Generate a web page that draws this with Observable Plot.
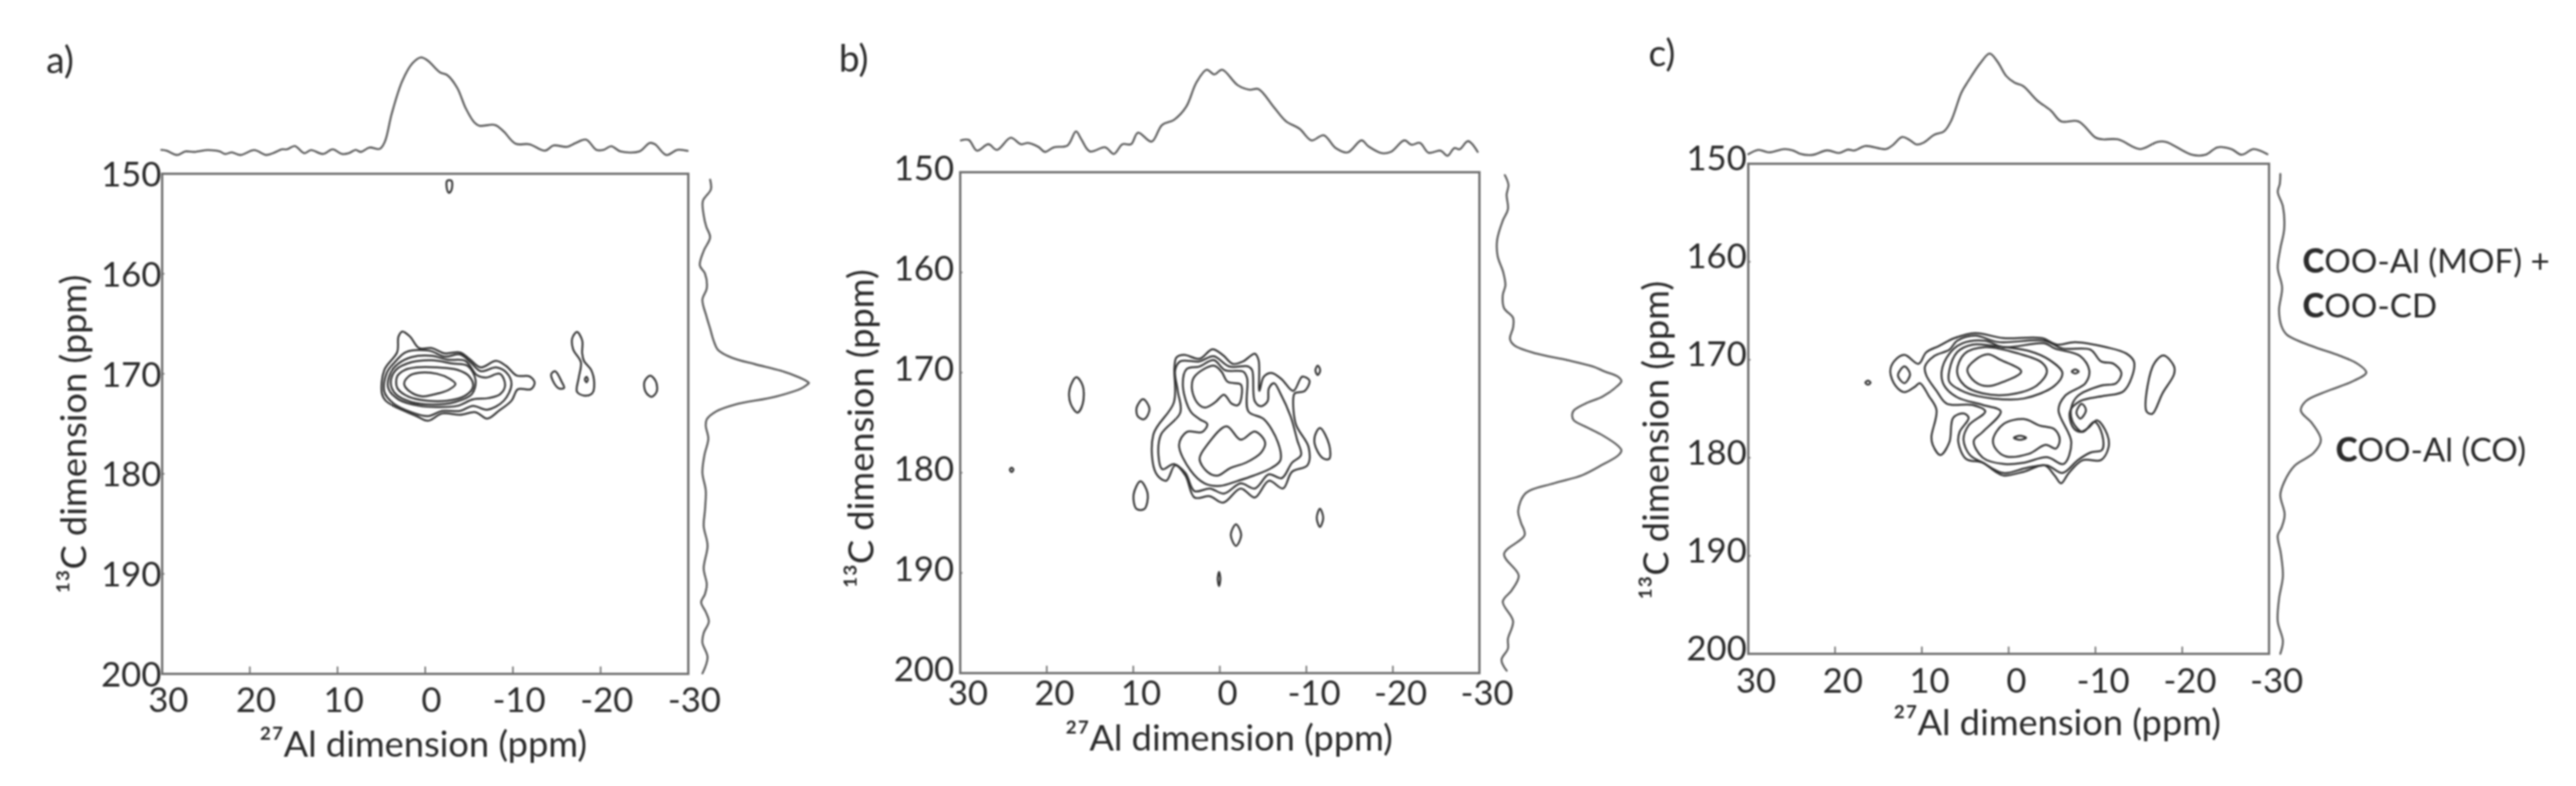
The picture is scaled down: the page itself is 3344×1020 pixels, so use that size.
<!DOCTYPE html>
<html>
<head>
<meta charset="utf-8">
<script src="https://cdn.jsdelivr.net/npm/d3@7"></script>
<script src="https://cdn.jsdelivr.net/npm/@observablehq/plot@0.6"></script>
<style>
html,body{margin:0;padding:0;background:#fff;}
#page{position:relative;width:3344px;height:1020px;overflow:hidden;background:#fff;filter:blur(0.9px);font-family:Lato,sans-serif;color:#2b2b2b;}
.note{position:absolute;white-space:nowrap;font-size:43px;line-height:1;transform:translateY(-50%);}
.note.big{font-size:48px;}
.note b{font-weight:900;}
</style>
</head>
<body>
<div id="page"></div>
<script>
const xTicks = [30,20,10,0,-10,-20,-30];
const yTicks = [150,160,170,180,190,200];
const xLabel = "²⁷Al dimension (ppm)";
const yLabel = "¹³C dimension (ppm)";

// panel a: contours [27Al ppm, 13C ppm]
const contoursA = [
 [[2.61,165.77],[1.73,166.28],[0.7,167.43],[-0.76,167.43],[-2.22,167.95],[-3.98,167.87],[-5.15,168.59],[-6.32,169.36],[-8.08,168.71],[-9.25,169.23],[-10.43,170.18],[-11.89,170.25],[-12.48,170.89],[-12.04,171.54],[-10.57,171.54],[-9.84,172.69],[-8.38,173.71],[-7.06,174.48],[-5.74,173.84],[-3.98,174.1],[-1.93,173.97],[-0.32,174.69],[1.0,174.23],[3.05,173.46],[4.51,172.69],[4.95,171.92],[4.66,169.61],[3.19,167.82],[3.05,166.28]],
 [[2.17,167.82],[-0.47,167.69],[-2.22,168.28],[-3.98,168.07],[-5.15,168.84],[-6.32,169.74],[-8.08,169.36],[-9.25,169.87],[-9.84,171.02],[-8.96,172.69],[-7.06,173.59],[-5.45,173.2],[-3.98,173.71],[-1.93,173.71],[-0.32,174.23],[1.58,173.84],[3.63,172.95],[4.66,171.79],[4.37,169.87],[3.34,168.71]],
 [[1.58,168.33],[-0.76,168.2],[-2.52,168.59],[-4.57,168.71],[-5.89,170.13],[-6.91,170.38],[-8.52,170.0],[-9.11,171.15],[-8.52,172.05],[-7.2,172.43],[-5.45,172.56],[-3.69,173.2],[-1.35,173.33],[0.7,173.2],[3.05,172.56],[4.22,171.41],[3.93,169.87],[3.05,168.97]],
 [[1.58,168.84],[-0.76,168.64],[-3.1,168.97],[-4.86,169.23],[-5.74,170.64],[-5.3,172.05],[-3.4,172.82],[-0.76,173.07],[1.58,172.82],[3.34,172.05],[3.93,170.89],[3.34,169.61]],
 [[1,169.36],[-1.35,169.36],[-3.69,169.61],[-5.01,170.25],[-5.45,171.28],[-4.57,172.18],[-2.52,172.69],[-0.17,172.69],[1.88,172.3],[3.19,171.41],[3.19,170.25],[2.32,169.61]],
 [[0.85,169.92],[-1.35,170],[-2.81,170.51],[-3.45,171.02],[-2.66,171.61],[-1.05,172.05],[0.41,172.25],[1.73,171.79],[2.4,171.02],[1.88,170.25]],
 [[-14.82,169.74],[-15.55,170.77],[-15.84,171.41],[-15.26,171.46],[-14.53,170.64],[-14.38,170]],
 [[-17.31,165.82],[-17.9,166.66],[-17.9,167.95],[-18.1,168.71],[-18.92,169.61],[-19.27,170.89],[-19.07,171.92],[-18.19,172.18],[-17.31,171.79],[-17.51,170.38],[-17.75,168.84],[-16.87,167.56],[-16.78,166.41]],
 [[-18.39,170.3],[-18.55,170.56],[-18.39,170.85],[-18.2,170.56]],
 [[-25.66,170.18],[-26.3,170.77],[-26.39,171.79],[-25.8,172.3],[-25.13,171.79],[-25.01,170.77]],
 [[-2.5,150.7],[-2.5,151.6],[-2.7,151.9],[-3,151.6],[-3,150.7]]
];
// panel b: contours
const contoursB = [
 [[5.01,168.49],[4.12,168.24],[2.34,168.62],[0.86,167.67],[-0.33,168.24],[-1.52,169.13],[-2.7,168.88],[-4.04,168.11],[-4.48,168.75],[-4.57,171.83],[-5.08,170.41],[-5.97,170.03],[-7.15,170.67],[-8.49,171.83],[-9.53,170.41],[-10.36,170.8],[-9.82,171.83],[-8.64,172.08],[-8.49,172.59],[-8.79,175.16],[-10.27,177.47],[-10.12,179.26],[-8.34,179.9],[-7.3,181.57],[-5.67,180.8],[-4.04,182.47],[-2.41,181.57],[-0.39,182.98],[1.15,182.34],[2.93,182.47],[3.97,180.29],[5.16,179.26],[6.2,180.8],[7.39,180.03],[7.68,176.18],[5.31,172.98],[5.25,169.52]],
 [[4.57,168.88],[2.34,168.88],[0.71,168.36],[-1.07,169.39],[-3.3,169.39],[-3.74,169.77],[-4.04,172.85],[-4.78,173.36],[-5.52,172.85],[-5.67,171.57],[-6.26,171.06],[-7,172.08],[-8.19,174.39],[-8.93,176.7],[-9.38,178.24],[-8.34,179.0],[-7.15,180.54],[-5.67,180.16],[-4.04,181.57],[-2.41,181.06],[-0.48,182.08],[1.15,181.57],[2.93,181.83],[3.97,180.03],[5.31,179.13],[6.64,179.65],[7.09,178.24],[6.79,176.18],[4.57,174.0],[4.86,171.83],[5.16,169.77]],
 [[3.83,169.65],[2.34,169.39],[0.71,168.75],[-0.63,169.77],[-2.7,169.9],[-3.15,170.54],[-3.3,173.88],[-5.08,174.65],[-6.71,176.95],[-7,178.75],[-5.97,179.52],[-3.89,180.29],[-2.11,180.8],[-0.03,181.31],[1.75,181.06],[3.38,179.77],[4.71,177.21],[3.83,175.93],[2.04,175.93],[1.45,175.16],[2.34,174.65],[3.38,173.88],[4.27,171.31]],
 [[0.71,169.31],[-0.18,169.9],[-0.92,170.93],[-2.41,171.18],[-2.55,172.08],[-2.11,173.24],[-1.37,173.11],[-0.48,172.21],[0.56,172.98],[1.75,173.49],[2.64,172.98],[3.23,171.57],[2.93,170.41]],
 [[-0.77,175.36],[-2.41,176.7],[-4.04,175.88],[-5.23,176.95],[-4.78,177.98],[-3,179],[-1.22,179.52],[0.26,180.29],[1.45,179.9],[2.34,178.62],[1.45,177.21]],
 [[16.58,170.47],[15.84,171.31],[15.84,173.11],[16.44,174.0],[17.24,173.11],[17.33,171.57]],
 [[8.87,172.65],[8.13,173.62],[8.72,174.65],[9.46,174.39],[9.61,173.49]],
 [[9.17,180.85],[8.34,182.08],[8.72,183.62],[9.61,183.62],[9.97,182.21]],
 [[-11.6,175.54],[-12.64,177.21],[-12.64,178.62],[-11.9,178.54],[-10.95,177.08],[-11.16,175.93]],
 [[-11.57,183.6],[-11.95,184.5],[-11.57,185.4],[-11.2,184.5]],
 [[-1.87,185.15],[-2.47,186.2],[-1.87,187.3],[-1.27,186.2]],
 [[0.09,189.9],[-0.06,190.6],[0.09,191.3],[0.24,190.6]],
 [[-11.31,169.3],[-11.6,169.77],[-11.31,170.25],[-11.05,169.77]],
 [[24.06,179.5],[23.85,179.7],[24.06,179.92],[24.27,179.7]]
];
// panel c: contours
const contoursC = [
 [[12.01,169.5],[13.19,170.15],[13.64,171.2],[13.04,172.64],[12.01,173.3],[10.83,172.77],[10.23,172.38],[9.2,173.69],[8.31,175.13],[8.9,177.88],[8.75,178.67],[7.87,179.72],[6.83,178.41],[6.39,175.92],[5.2,175.47],[4.61,175.92],[5.65,177.36],[5.8,178.41],[4.91,180.11],[2.99,180.5],[1.51,181.42],[0.62,181.81],[-1.75,181.42],[-4.12,180.77],[-5.3,181.81],[-6.04,182.6],[-6.93,181.55],[-8.55,180.24],[-10.62,180.24],[-11.51,178.93],[-11.36,177.62],[-10.18,176.18],[-9.15,176.97],[-8.26,177.36],[-7.37,176.83],[-7.07,175.26],[-8.26,174.21],[-10.92,173.69],[-13.29,173.17],[-14.47,170.28],[-13.58,169.37],[-11.22,168.71],[-7.67,168.19],[-5.6,168.45],[-3.82,167.79],[0.62,167.79],[3.87,167.27],[6.24,167.79],[8.01,168.58],[9.49,169.23],[10.38,170.41]],
 [[9.64,170.68],[8.6,169.63],[6.83,168.97],[5.94,168.06],[3.87,167.53],[1.21,168.19],[-4.12,168.06],[-6.19,168.84],[-9.44,168.97],[-10.62,170.15],[-12.1,170.41],[-12.99,171.33],[-12.4,172.38],[-10.62,172.64],[-7.96,173.69],[-7.22,174.87],[-7.37,176.31],[-8.55,177.36],[-9.88,176.31],[-10.77,177.62],[-10.77,179.19],[-9.44,179.46],[-7.96,180.24],[-6.19,181.55],[-4.41,180.77],[-2.05,181.03],[0.62,181.55],[2.99,180.5],[4.46,179.72],[5.2,178.15],[4.61,176.7],[2.69,175.26],[4.17,174.61],[7.13,174.48],[8.31,173.17],[9.49,171.59]],
 [[7.72,171.2],[6.83,169.37],[5.35,168.32],[2.69,168.06],[0.62,168.71],[-4.12,168.32],[-5.3,168.84],[-8.26,169.63],[-9.29,171.07],[-8.85,172.38],[-6.48,173.69],[-5.74,175.13],[-7.22,178.41],[-6.33,180.63],[-4.41,179.93],[-1.75,180.5],[0.62,180.63],[2.99,179.98],[4.02,178.28],[2.99,177.36],[0.91,175.26],[2.99,174.61],[5.94,173.82],[7.42,172.64]],
 [[6.83,171.07],[5.94,169.23],[4.17,168.45],[1.8,168.58],[-2.34,169.1],[-4.71,170.02],[-6.19,171.33],[-5.3,172.64],[-1.75,173.95],[1.8,173.95],[5.06,173.3],[6.83,172.25]],
 [[5.94,171.2],[5.06,169.37],[2.69,168.71],[-1.16,169.37],[-3.82,170.28],[-4.41,171.2],[-3.23,172.64],[0.03,173.56],[2.99,173.43],[5.06,172.64]],
 [[4.76,171.02],[3.87,170.02],[2.39,169.44],[0.91,170.02],[-1.45,171.2],[0.62,172.25],[2.39,172.69],[3.87,172.25]],
 [[1.8,178.14],[0.62,176.57],[-1.75,176.05],[-3.52,176.7],[-5.3,177.1],[-5.89,178.14],[-5.45,179.06],[-4.26,178.67],[-2.34,179.59],[0.32,179.85],[1.51,179.06]],
 [[-0.61,177.96],[-1.31,177.76],[-2.01,177.96],[-1.31,178.16]],
 [[-7.27,171.2],[-7.67,171.0],[-8.07,171.2],[-7.67,171.4]],
 [[16.51,172.33],[16.21,172.13],[15.91,172.33],[16.21,172.53]],
 [[-8.41,174.48],[-8.91,175.13],[-8.26,176],[-7.81,175.39]],
 [[12.01,170.68],[11.36,171.46],[12.01,172.38],[12.75,171.59]],
 [[-17.87,169.55],[-19.06,170.68],[-19.06,171.46],[-17.72,173.43],[-16.54,175.52],[-15.89,175.26],[-16.01,172.64],[-16.84,170.28]]
];

// top projections [27Al ppm, intensity]
const topA = [[30.1,9.5],[29.51,8.75],[28.33,4.5],[27.35,8],[26.37,7.5],[24.8,9.25],[23.43,8],[22.84,5.5],[22.05,7],[21.07,4.5],[19.5,9.25],[18.13,4.5],[17.15,7],[16.36,10],[15.78,10],[14.87,13.25],[13.81,6.25],[13.03,9.25],[11.66,5.5],[10.56,10],[9.5,5.5],[8.71,6.25],[7.93,9.5],[7.34,7.5],[6.36,11.75],[5.18,10.5],[4.6,17.5],[3.81,45],[2.63,76.25],[1.46,93.75],[0.48,99.5],[-0.31,96.25],[-1.68,85],[-2.47,82.5],[-3.64,70],[-4.62,50],[-5.6,36.25],[-6.19,33],[-7.96,33.75],[-8.94,27.5],[-10.31,15.5],[-11.88,15],[-13.65,8.75],[-14.63,13.75],[-16.2,12.5],[-17.18,16.25],[-18.35,19.5],[-19.53,9.5],[-20.32,9.5],[-21.22,13],[-22.28,8],[-24.43,8],[-25.61,16.25],[-26.2,15],[-27.5,4.5],[-28.75,9.5],[-29.93,8.5]];
const topB = [[29.93,26.25],[29.02,26.75],[28.07,16.25],[26.75,22.5],[25.76,17],[24.17,28.75],[22.98,22.5],[22.18,23.75],[20.99,20],[20.2,15],[19.2,19.5],[17.61,21.25],[16.62,35],[16.02,27.5],[15.03,15.5],[13.24,19.5],[12.25,13],[11.25,22.5],[10.26,22.5],[9.46,33.75],[7.88,25],[6.68,41.25],[5.29,46.25],[3.9,58.75],[2.71,82.5],[1.52,95],[0.64,90.5],[-0.27,95],[-2.06,80],[-3.45,75.5],[-4.45,76.25],[-6.23,58.75],[-7.63,45],[-9.22,37.5],[-10.6,26.25],[-12.0,31.25],[-13.39,18.75],[-14.78,14.5],[-16.37,26.25],[-17.17,20.5],[-18.75,13.75],[-19.75,15],[-21.34,26.25],[-22.13,22],[-23.13,23.75],[-24.12,14.25],[-25.51,16.25],[-26.31,11.25],[-27.1,18.75],[-27.7,17.5],[-28.69,25.5],[-29.8,15]];
const topC = [[30,7.5],[28.82,11.75],[27.63,9.25],[25.85,12.5],[24.86,11.25],[24.06,8],[22.68,6.75],[20.9,11.25],[19.51,8.75],[18.52,12],[17.73,11.25],[16.54,15.5],[14.16,12.5],[13.37,16.25],[12.26,24.25],[11.39,21.25],[10.59,17],[9.8,18.75],[8.61,26.25],[7.42,30],[6.63,40],[5.44,67.5],[4.65,78.75],[3.26,96.25],[2.19,105.5],[1.28,97.5],[0.29,83.75],[-0.7,77],[-1.69,73.75],[-3.27,60],[-4.86,50],[-6.05,39.5],[-8.03,39.5],[-10.01,23.75],[-10.8,22],[-12.58,22],[-15.16,12.5],[-17.14,19.5],[-18.13,19.5],[-21.1,7],[-22.69,7],[-24.07,14.25],[-25.66,12.5],[-26.85,7],[-28.23,12.5],[-29.82,7.5]];

// side projections [13C ppm, intensity]
const sideA = [[150.59,8.75],[151.56,9.5],[152.7,1.75],[154.15,2.5],[155.29,5],[156.35,8.75],[157.71,2.5],[159.17,-1.25],[159.98,3.75],[161.44,5.5],[162.57,1.25],[164.19,5],[165.48,8.75],[166.78,12.5],[167.59,16.25],[168.4,30],[169.04,52.5],[169.69,77.5],[170.34,95],[170.75,103],[170.92,105],[171.1,103],[171.47,97.5],[172.28,72.5],[173.09,32.5],[173.74,15],[174.55,5.5],[175.19,4.5],[176.49,7],[178.11,3.25],[179.89,1.25],[181.67,4.5],[183.61,3.75],[185.23,2.5],[187.17,6.25],[189.44,2.5],[191.06,5.5],[192.03,3.75],[192.84,0],[193.81,4.5],[194.78,7.5],[195.91,2.5],[196.88,1.25],[198.34,6.25],[199.96,1.25]];
const sideB = [[150.29,2],[151.27,5.5],[152.24,3.75],[153.69,5],[154.83,0],[156.77,-5.5],[158.39,-5],[160.01,0.5],[161.3,2.5],[162.27,0],[163.57,1.25],[164.54,10],[165.51,10],[166.64,7],[167.29,11.25],[168.1,32.5],[168.75,62.5],[169.39,87.5],[169.88,99],[170.4,112],[170.85,115.5],[171.3,112],[172.37,97.5],[173.12,80],[173.8,69],[174.25,67.5],[174.75,69],[175.38,80],[176.29,97.5],[177.3,112],[177.78,115.5],[178.3,112],[179.17,97.5],[180.24,77.5],[181.05,50],[182.02,22.5],[183.8,15],[184.93,17.5],[186.23,21.25],[188.11,1.25],[190.27,15.5],[191.73,8.75],[192.87,0],[194.81,10],[196.59,5],[197.56,5],[198.69,-1.25],[199.76,3.75]];
const sideC = [[151.05,0],[152.04,-0.5],[152.87,-2.5],[154.35,2.5],[156.67,3.75],[158.66,0],[160.64,-2.5],[162.63,1.75],[164.94,-1.25],[166.6,1.25],[167.43,6.25],[168.58,30],[169.58,57.5],[170.4,75],[171.3,83.75],[172.22,70],[173.22,45],[174.21,25],[175.2,20],[176.53,31.25],[178.18,39.5],[179.5,32.5],[180.83,13.75],[182.48,3.75],[183.8,0],[185.79,4.25],[187.11,1.25],[187.94,-2.5],[189.76,0.5],[192.08,2.5],[194.39,-1.25],[196.71,-2.5],[198.7,2.5],[200,0]];

const panels = [
 {contours:contoursA, top:topA, side:sideA, fx:[210,893], fy:[225,874], topBase:206.7, sideBase:910, sideDom:[-5,110], lab:"a)", labX:60, labY:77, tickDx:8, tickDy:39, yDy:2, yDx:0, xLabCx:549, xLabY:966, yLabX:96, yLabCy:563},
 {contours:contoursB, top:topB, side:sideB, fx:[1246,1920], fy:[223,873], topBase:216.7, sideBase:1950, sideDom:[-10,120], lab:"b)", labX:1089, labY:75, tickDx:10, tickDy:31, yDy:-4, yDx:-7, xLabCx:1595, xLabY:958, yLabX:1118, yLabCy:556},
 {contours:contoursC, top:topC, side:sideC, fx:[2269,2945], fy:[212,848], topBase:210, sideBase:2960, sideDom:[-5,90], lab:"c)", labX:2140, labY:68, tickDx:10, tickDy:40, yDy:-6, yDx:-1, xLabCx:2670, xLabY:938, yLabX:2150, yLabCy:571}
];
const ink = "#333", frameInk = "#707070", lineInk = "#5c5c5c", textInk = "#2b2b2b", tickFont = 45, labelFont = 47, pxPerUnit = 4/3;
const page = document.getElementById("page");
function place(svg,left,top){svg.style.position="absolute";svg.style.left=left+"px";svg.style.top=top+"px";svg.style.maxWidth="none";page.appendChild(svg);}
function note(html,x,y,cls){const d=document.createElement("div");d.className="note"+(cls?" "+cls:"");d.innerHTML=html;d.style.left=x+"px";d.style.top=y+"px";page.appendChild(d);}

for (const p of panels) {
  const mL=150, mT=60, mR=60, mB=130;
  const fw=p.fx[1]-p.fx[0], fh=p.fy[1]-p.fy[0];
  const table = p.contours.flatMap((c,i)=>c.map(([x,y])=>({x,y,z:i})));
  place(Plot.plot({
    width:fw+mL+mR, height:fh+mT+mB, marginLeft:mL, marginRight:mR, marginTop:mT, marginBottom:mB,
    style:{background:"transparent",overflow:"visible",fontFamily:"Lato"},
    x:{domain:[30,-30]}, y:{domain:[200,150]},
    marks:[
      Plot.frame({stroke:frameInk,strokeWidth:3}),
      Plot.ruleX(xTicks.slice(1,-1),{y1:200,y2:199.3,stroke:frameInk,strokeWidth:2}),
      Plot.ruleY(yTicks.slice(1,-1),{x1:30,x2:29.7,stroke:frameInk,strokeWidth:2}),
      Plot.axisX(xTicks,{anchor:"bottom",tickSize:0,tickPadding:p.tickDy-21,dx:p.tickDx,fontSize:tickFont,fill:textInk,tickFormat:d=>String(d),label:null}),
      Plot.axisY(yTicks,{anchor:"left",tickSize:0,tickPadding:1-p.yDx,dy:p.yDy,fontSize:tickFont,fill:textInk,label:null}),
      Plot.line(table,{x:"x",y:"y",z:"z",curve:"catmull-rom-closed",stroke:ink,strokeWidth:2.5}),
      Plot.text([xLabel],{frameAnchor:"bottom",textAnchor:"middle",dx:p.xLabCx-(p.fx[0]+p.fx[1])/2,dy:p.xLabY-p.fy[1],fontSize:labelFont,fill:textInk,lineAnchor:"middle"}),
      Plot.text([yLabel],{frameAnchor:"left",textAnchor:"middle",rotate:-90,dx:p.yLabX-p.fx[0],dy:p.yLabCy-(p.fy[0]+p.fy[1])/2,fontSize:labelFont,fill:textInk,lineAnchor:"middle"})
    ]
  }), p.fx[0]-mL, p.fy[0]-mT);

  place(Plot.plot({
    width:fw, height:110*pxPerUnit, margin:0, style:{background:"transparent",overflow:"visible"},
    x:{domain:[30,-30],axis:null}, y:{domain:[0,110],axis:null},
    marks:[Plot.line(p.top,{x:d=>d[0],y:d=>d[1],curve:"catmull-rom",stroke:lineInk,strokeWidth:2.6})]
  }), p.fx[0], p.topBase-110*pxPerUnit);

  const sw=(p.sideDom[1]-p.sideDom[0])*pxPerUnit;
  place(Plot.plot({
    width:sw, height:fh, margin:0, style:{background:"transparent",overflow:"visible"},
    x:{domain:p.sideDom,axis:null}, y:{domain:[200,150],axis:null},
    marks:[Plot.line(p.side,{x:d=>d[1],y:d=>d[0],curve:"catmull-rom",stroke:lineInk,strokeWidth:2.6})]
  }), p.sideBase+p.sideDom[0]*pxPerUnit, p.fy[0]);

  note(p.lab,p.labX,p.labY,"big");
}
note("<b>C</b>OO-Al (MOF) +",2989,337);
note("<b>C</b>OO-CD",2989,395);
note("<b>C</b>OO-Al (CO)",3032,582);
</script>
</body>
</html>
